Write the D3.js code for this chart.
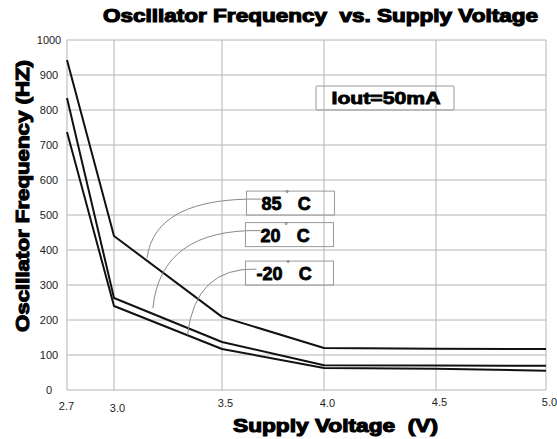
<!DOCTYPE html>
<html><head><meta charset="utf-8">
<script src="https://cdn.jsdelivr.net/npm/d3@7"></script>
<style>body{margin:0;background:#fff}svg{display:block}</style>
</head><body>
<svg id="c" width="557" height="439"></svg>
<script>
// ---- data ----
const voltages = [2.7, 3.0, 3.5, 4.0, 4.5, 5.0];
const xTickLabels = ["2.7", "3.0", "3.5", "4.0", "4.5", "5.0"];
const yTicks = [0, 100, 200, 300, 400, 500, 600, 700, 800, 900, 1000];
const series85 = [943, 440, 209, 120, 118, 117];
const series20 = [834, 263, 137, 71, 70, 69];
const seriesM20 = [737, 240, 117, 63, 61, 55];
const seriesNames = ["85", "20", "-20"];
// annotation: anchor on curve (V, Hz), label position (V, Hz)
const annotAnchorV = [3.153, 3.18, 3.34];
const annotAnchorHz = [377, 234, 157];
const annotLabelV = [3.62, 3.615, 3.615];
const annotLabelHz = [534, 444, 334];
const noteText = "Iout=50mA";

// ---- layout ----
const svg = d3.select("#c");
const x = d3.scaleLinear().domain(voltages).range([67, 114, 222, 324, 436, 546]);
const y = d3.scaleLinear().domain([0, 1000]).range([390, 40]);
const grid = "#b4b4b4";

// grid
svg.append("g").selectAll("line").data(yTicks).join("line")
  .attr("x1", x(2.7)).attr("x2", x(5.0))
  .attr("y1", d => y(d)).attr("y2", d => y(d))
  .attr("stroke", grid).attr("stroke-width", 1);
svg.append("g").selectAll("line").data(voltages).join("line")
  .attr("x1", d => x(d)).attr("x2", d => x(d))
  .attr("y1", y(0)).attr("y2", y(1000))
  .attr("stroke", grid).attr("stroke-width", 1);

// y axis labels
const yAxis = d3.axisLeft(y).tickValues(yTicks).tickFormat(d3.format("d")).tickSize(0).tickPadding(0);
const gy = svg.append("g").attr("transform", "translate(49,0)").call(yAxis);
gy.select(".domain").remove();
gy.selectAll("text").attr("text-anchor", "middle").attr("dy", "0.32em")
  .attr("font-family", "Liberation Sans, Arial, sans-serif").attr("font-size", 11).attr("fill", "#222");

// x axis labels
const xAxis = d3.axisBottom(x).tickValues(voltages).tickFormat((d, i) => xTickLabels[i]).tickSize(0).tickPadding(0);
const gx = svg.append("g").attr("transform", "translate(0,400)").call(xAxis);
gx.select(".domain").remove();
gx.selectAll("text").attr("font-family", "Liberation Sans, Arial, sans-serif").attr("font-size", 11).attr("fill", "#222")
  .attr("dy", (d, i) => [0.9, 1.1, 0.6, 0.6, 0.5, 0.5][i] + "em")
  .attr("dx", (d, i) => i === 0 ? -1 : 3);

// lines
const line = d3.line().x((d, i) => x(voltages[i])).y(d => y(d));
[series85, series20, seriesM20].forEach(s => {
  svg.append("path").datum(s).attr("d", line).attr("fill", "none")
    .attr("stroke", "#111").attr("stroke-width", 2).attr("stroke-linejoin", "round");
});

// annotations
const boxW = 88, boxH = 24;
seriesNames.forEach((name, i) => {
  const ax = x(annotAnchorV[i]), ay = y(annotAnchorHz[i]);
  const lx = x(annotLabelV[i]), ly = y(annotLabelHz[i]);
  const tx = lx + (name.length > 2 ? 11 : 15);
  const p = d3.path();
  p.moveTo(ax, ay);
  p.quadraticCurveTo(ax + 8, ly - 6, tx, ly - 4);
  svg.append("path").attr("d", p.toString()).attr("fill", "none").attr("stroke", "#888").attr("stroke-width", 1);
  svg.append("rect").attr("x", lx).attr("y", ly - boxH / 2).attr("width", boxW).attr("height", boxH)
    .attr("fill", "none").attr("stroke", "#999").attr("stroke-width", 1);
  const t = svg.append("text").attr("x", tx).attr("y", ly + 7)
    .attr("font-family", "Liberation Sans, Arial, sans-serif").attr("font-weight", "bold")
    .attr("font-size", 18).attr("fill", "#000").attr("stroke", "#000").attr("stroke-width", 0.8);
  t.append("tspan").text(name);
  t.append("tspan").attr("font-size", 8).attr("dy", -14).attr("dx", 4).attr("stroke-width", 0).attr("fill", "#555").text("°");
  t.append("tspan").attr("dy", 14).attr("dx", 9).text("C");
});

// Iout note
svg.append("rect").attr("x", 316).attr("y", 86).attr("width", 138).attr("height", 24)
  .attr("fill", "none").attr("stroke", "#999").attr("stroke-width", 1).attr("rx", 1);
svg.append("text").attr("x", 386).attr("y", 104).attr("text-anchor", "middle")
  .attr("font-family", "Liberation Sans, Arial, sans-serif").attr("font-weight", "bold").attr("font-size", 16)
  .attr("stroke", "#000").attr("stroke-width", 0.8)
  .attr("textLength", 109).attr("lengthAdjust", "spacingAndGlyphs").text(noteText);

// titles
const titleFont = "Liberation Sans, Arial, sans-serif";
svg.append("text").attr("x", 103).attr("y", 22)
  .attr("font-family", titleFont).attr("font-weight", "bold").attr("font-size", 18)
  .attr("stroke", "#000").attr("stroke-width", 1.1)
  .attr("textLength", 435).attr("lengthAdjust", "spacingAndGlyphs")
  .style("white-space", "pre")
  .text("Oscillator Frequency  vs. Supply Voltage");
svg.append("text").attr("x", 233).attr("y", 432)
  .attr("font-family", titleFont).attr("font-weight", "bold").attr("font-size", 18)
  .attr("stroke", "#000").attr("stroke-width", 1.1)
  .attr("textLength", 205).attr("lengthAdjust", "spacingAndGlyphs")
  .style("white-space", "pre")
  .text("Supply Voltage  (V)");
svg.append("text").attr("transform", "translate(29,196) rotate(-90)").attr("text-anchor", "middle")
  .attr("font-family", titleFont).attr("font-weight", "bold").attr("font-size", 18)
  .attr("stroke", "#000").attr("stroke-width", 1.1)
  .attr("textLength", 272).attr("lengthAdjust", "spacingAndGlyphs")
  .text("Oscillator Frequency (HZ)");
</script>
</body></html>
